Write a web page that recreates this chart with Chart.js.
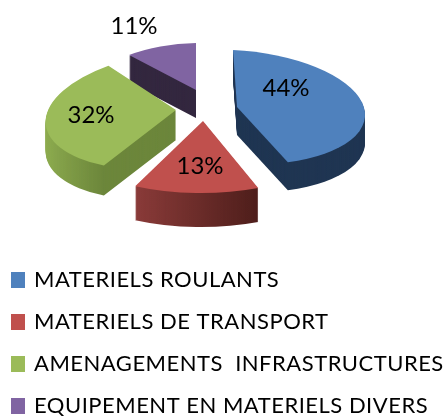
<!DOCTYPE html>
<html>
<head>
<meta charset="utf-8">
<script src="https://cdn.jsdelivr.net/npm/chart.js@4"></script>
<style>
  html, body { margin: 0; padding: 0; background: #fff; width: 444px; height: 416px; overflow: hidden; }
  #wrap { width: 444px; height: 427px; }
</style>
</head>
<body>
<div id="wrap"><canvas id="pieChart"></canvas></div>
<script>
const categories = ['MATERIELS ROULANTS', 'MATERIELS DE TRANSPORT', 'AMENAGEMENTS  INFRASTRUCTURES', 'EQUIPEMENT EN MATERIELS DIVERS'];
const percentages = [44, 13, 32, 11];
const colors = ['#4f81bd', '#c0504d', '#9bbb59', '#8064a2'];
const sideColors = [['#1f3552', '#1f3552'], ['#8a3b39', '#4e1e1b'], ['#8fae50', '#6c863b'], ['#33273f', '#33273f']];

// fake 3d look: every slice gets its own flattening [a, b, c, d], shift from the pie origin and depth
const sliceMatrix = [[128, 4, 6, 57], [155, -2, 0, 72], [129, -19, -3, 60], [105, 0, -2, 47]];
const sliceShift = [[34, 2], [0, 16], [-27, 5], [-7, -15]];
const sliceDepth = [28, 34, 30, 28];
const drawOrder = [3, 2, 0, 1];
const labelOffset = [[49, -19], [-3, 45], [-85, 5], [-62, -64]];
const pieOrigin = { x: 203, y: 105 };

function placeSlice(ctx, arc, i, down) {
  const r = arc.outerRadius;
  const m = sliceMatrix[i];
  ctx.translate(pieOrigin.x + sliceShift[i][0], pieOrigin.y + sliceShift[i][1] + down);
  ctx.transform(m[0] / r, m[2] / r, m[1] / r, m[3] / r, 0, 0);
  ctx.translate(-arc.x, -arc.y);
}

function sideFill(ctx, arc, i) {
  let min = 1, max = -1;
  for (let k = 0; k <= 16; k++) {
    const c = Math.cos(arc.startAngle + (arc.endAngle - arc.startAngle) * k / 16);
    min = Math.min(min, c);
    max = Math.max(max, c);
  }
  const g = ctx.createLinearGradient(arc.x + min * arc.outerRadius, 0, arc.x + max * arc.outerRadius, 0);
  g.addColorStop(0, sideColors[i][0]);
  g.addColorStop(1, sideColors[i][1]);
  return g;
}

const pie3d = {
  id: 'pie3d',
  afterLayout(chart) {
    chart.legend.left -= 7;
  },
  beforeDraw(chart) {
    // legend text is wider in the original
    chart.ctx.letterSpacing = '0.5px';
  },
  beforeDatasetsDraw(chart) {
    const ctx = chart.ctx;
    const arcs = chart.getDatasetMeta(0).data;
    ctx.letterSpacing = '0px';
    ctx.save();
    ctx.filter = 'blur(0.5px)';
    drawOrder.forEach((i) => {
      const arc = arcs[i];
      const topOptions = arc.options;
      arc.options = Object.assign({}, topOptions, { backgroundColor: sideFill(ctx, arc, i) });
      for (let d = sliceDepth[i]; d > 0; d--) {
        ctx.save();
        placeSlice(ctx, arc, i, d);
        arc.draw(ctx);
        ctx.restore();
      }
      arc.options = topOptions;
      ctx.save();
      placeSlice(ctx, arc, i, 0);
      arc.draw(ctx);
      ctx.restore();
    });
    ctx.restore();

    ctx.save();
    ctx.font = '24px Lato';
    ctx.fillStyle = '#000';
    ctx.textAlign = 'center';
    ctx.textBaseline = 'middle';
    percentages.forEach((v, i) => {
      ctx.fillText(v + '%',
        pieOrigin.x + sliceShift[i][0] + labelOffset[i][0],
        pieOrigin.y + sliceShift[i][1] + labelOffset[i][1]);
    });
    ctx.restore();
    return false;
  }
};

new Chart(document.getElementById('pieChart'), {
  type: 'pie',
  data: {
    labels: categories,
    datasets: [{ data: percentages, backgroundColor: colors, borderWidth: 0 }]
  },
  options: {
    responsive: true,
    maintainAspectRatio: false,
    animation: false,
    plugins: {
      tooltip: { enabled: false },
      legend: {
        position: 'bottom',
        align: 'start',
        labels: {
          boxWidth: 10,
          boxHeight: 12,
          padding: 20,
          color: '#000',
          font: { family: 'Lato', size: 22 },
          // thick outline in the fill colour so the box stays 14x16 but the text sits closer
          generateLabels(chart) {
            return Chart.overrides.pie.plugins.legend.labels.generateLabels(chart).map((item) => {
              item.strokeStyle = item.fillStyle;
              item.lineWidth = 4;
              return item;
            });
          }
        }
      }
    }
  },
  plugins: [pie3d]
});
</script>
</body>
</html>
